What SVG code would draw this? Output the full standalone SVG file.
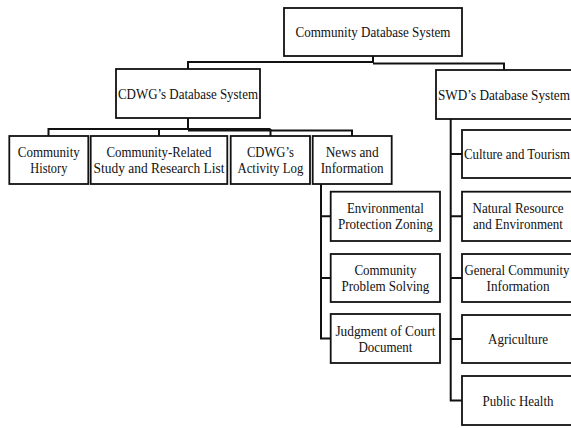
<svg xmlns="http://www.w3.org/2000/svg" width="571" height="428" viewBox="0 0 571 428">
<style>
.b{fill:#fff;stroke:#111;stroke-width:1.8}
.c{fill:none;stroke:#111;stroke-width:2}
text{font-family:"Liberation Serif","Times New Roman",serif;font-size:14.5px;fill:#111;text-anchor:middle}
</style>
<rect width="571" height="428" fill="#fff"/>
<g id="connectors" class="c">
<path d="M373,56V63M188,69V62H373M373,63.5H504V70"/>
<path d="M188,118V130M48.5,136V129H270.5M188,130.5H352V136M159,129V136M270.5,129V136"/>
<path d="M321,184V338.5H331M321,216.3H331M321,278H331"/>
<path d="M450.7,119V400.5H462M450.7,154H462M450.7,216.3H462M450.7,278H462M450.7,339H462"/>
</g>
<g id="n-root"><rect class="b" x="284" y="8" width="178" height="48"/><text x="373" y="37" textLength="155" lengthAdjust="spacingAndGlyphs">Community Database System</text></g>
<g id="n-cdwg"><rect class="b" x="116" y="69" width="144" height="49"/><text x="188" y="98.5" textLength="140" lengthAdjust="spacingAndGlyphs">CDWG’s Database System</text></g>
<g id="n-swd"><rect class="b" x="436" y="70" width="138" height="49"/><text x="504" y="99.5" textLength="132" lengthAdjust="spacingAndGlyphs">SWD’s Database System</text></g>
<g id="n-history"><rect class="b" x="9.3" y="136" width="79" height="48"/><text x="48.8" y="157" textLength="62" lengthAdjust="spacingAndGlyphs">Community</text><text x="48.8" y="173" textLength="37" lengthAdjust="spacingAndGlyphs">History</text></g>
<g id="n-study"><rect class="b" x="90.7" y="136" width="136.6" height="48"/><text x="159" y="157" textLength="105" lengthAdjust="spacingAndGlyphs">Community-Related</text><text x="159" y="173" textLength="131" lengthAdjust="spacingAndGlyphs">Study and Research List</text></g>
<g id="n-log"><rect class="b" x="230.7" y="136" width="79.3" height="48"/><text x="270.4" y="157" textLength="47" lengthAdjust="spacingAndGlyphs">CDWG’s</text><text x="270.4" y="173" textLength="66" lengthAdjust="spacingAndGlyphs">Activity Log</text></g>
<g id="n-news"><rect class="b" x="312.7" y="136" width="79" height="48"/><text x="352.2" y="157" textLength="53" lengthAdjust="spacingAndGlyphs">News and</text><text x="352.2" y="173" textLength="63" lengthAdjust="spacingAndGlyphs">Information</text></g>
<g id="n-env"><rect class="b" x="330.7" y="191.7" width="109.3" height="49.3"/><text x="385.4" y="213.3" textLength="77" lengthAdjust="spacingAndGlyphs">Environmental</text><text x="385.4" y="229.3" textLength="95" lengthAdjust="spacingAndGlyphs">Protection Zoning</text></g>
<g id="n-problem"><rect class="b" x="330.7" y="254" width="109.3" height="48"/><text x="385.4" y="275" textLength="62" lengthAdjust="spacingAndGlyphs">Community</text><text x="385.4" y="291" textLength="88" lengthAdjust="spacingAndGlyphs">Problem Solving</text></g>
<g id="n-court"><rect class="b" x="330.7" y="314" width="109.3" height="49"/><text x="385.4" y="335.5" textLength="100" lengthAdjust="spacingAndGlyphs">Judgment of Court</text><text x="385.4" y="351.5" textLength="54" lengthAdjust="spacingAndGlyphs">Document</text></g>
<g id="n-culture"><rect class="b" x="462" y="130" width="112" height="48"/><text x="517" y="159" textLength="106" lengthAdjust="spacingAndGlyphs">Culture and Tourism</text></g>
<g id="n-natural"><rect class="b" x="462" y="191.7" width="112" height="49.3"/><text x="518" y="213.3" textLength="91" lengthAdjust="spacingAndGlyphs">Natural Resource</text><text x="518" y="229.3" textLength="90" lengthAdjust="spacingAndGlyphs">and Environment</text></g>
<g id="n-general"><rect class="b" x="462" y="254" width="112" height="48"/><text x="517" y="275" textLength="105" lengthAdjust="spacingAndGlyphs">General Community</text><text x="518" y="291" textLength="63" lengthAdjust="spacingAndGlyphs">Information</text></g>
<g id="n-agri"><rect class="b" x="462" y="315" width="112" height="48"/><text x="518" y="344" textLength="60" lengthAdjust="spacingAndGlyphs">Agriculture</text></g>
<g id="n-health"><rect class="b" x="462" y="376" width="112" height="49"/><text x="518" y="405.5" textLength="71" lengthAdjust="spacingAndGlyphs">Public Health</text></g>
</svg>
